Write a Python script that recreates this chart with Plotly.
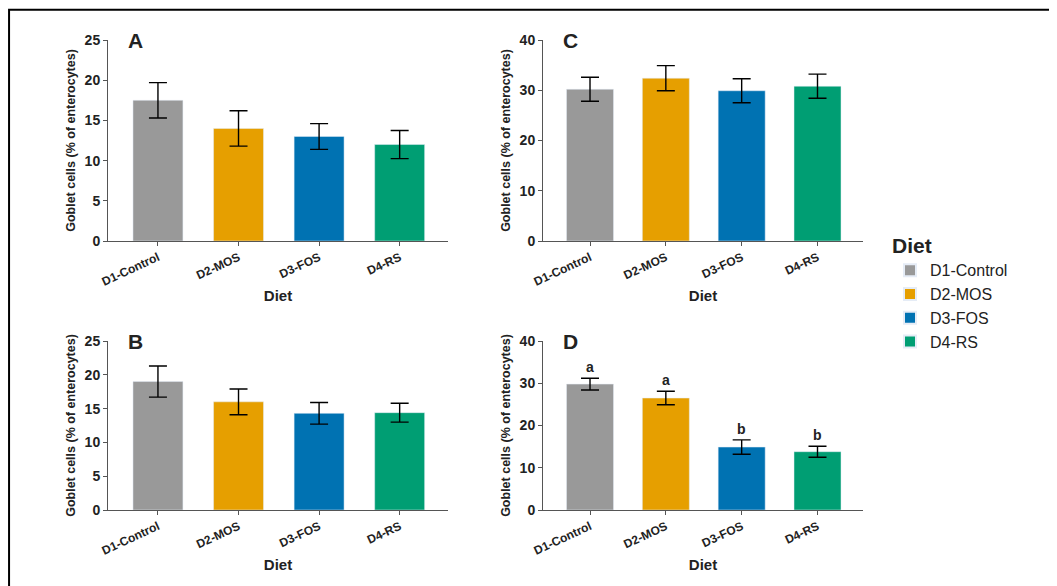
import plotly.graph_objects as go

diets = ["D1-Control", "D2-MOS", "D3-FOS", "D4-RS"]
colors = ["#999999", "#E69F00", "#0072B2", "#009E73"]
A_mean = [17.5, 14.0, 13.0, 12.0]; A_err = [2.2, 2.2, 1.6, 1.75]
B_mean = [19.0, 16.0, 14.3, 14.4]; B_err = [2.3, 1.9, 1.6, 1.4]
C_mean = [30.2, 32.4, 29.9, 30.8]; C_err = [2.4, 2.5, 2.4, 2.4]
D_mean = [29.8, 26.5, 14.9, 13.8]; D_err = [1.4, 1.6, 1.7, 1.3]
D_letters = ["a", "a", "b", "b"]

W, H = 1057, 586
def fx(p): return p / W
def fy(p): return 1 - p / H

panels = [
    ("A", A_mean, A_err, (100, 440), (32, 233), 25, 5),
    ("C", C_mean, C_err, (535, 855), (32, 233), 40, 10),
    ("B", B_mean, B_err, (100, 440), (333, 502), 25, 5),
    ("D", D_mean, D_err, (535, 855), (333, 502), 40, 10),
]

fig = go.Figure()
annotations = []
for i, (lab, m, e, (x0, x1), (yt, yb), ymax, dt) in enumerate(panels):
    n = i + 1
    xa = "x" if n == 1 else f"x{n}"
    ya = "y" if n == 1 else f"y{n}"
    for j, d in enumerate(diets):
        fig.add_trace(go.Bar(
            x=[d], y=[m[j]], name=d, marker_color=colors[j], width=0.62,
            error_y=dict(type="data", array=[e[j]], color="black", thickness=1.4, width=9),
            showlegend=(i == 0), legendgroup=d, xaxis=xa, yaxis=ya))
    axk = "xaxis" if n == 1 else f"xaxis{n}"
    ayk = "yaxis" if n == 1 else f"yaxis{n}"
    fig.layout[axk] = dict(domain=[fx(x0), fx(x1)], anchor=ya, showline=True, linecolor="#555",
                           ticks="outside", ticklen=4, tickcolor="#555", tickangle=-25,
                           tickprefix="<b>", ticksuffix="</b>",
                           tickfont=dict(size=12, family="Liberation Sans", color="#222"),
                           title=dict(text="<b>Diet</b>", font=dict(size=15, family="Liberation Sans", color="#222"), standoff=2),
                           categoryorder="array", categoryarray=diets, range=[-0.62, 3.6])
    fig.layout[ayk] = dict(domain=[fy(yb), fy(yt)], anchor=xa, showline=True, linecolor="#555",
                           ticks="outside", ticklen=4, tickcolor="#555", range=[0, ymax], dtick=dt,
                           showgrid=False, zeroline=False,
                           tickprefix="<b>", ticksuffix="</b>",
                           tickfont=dict(size=14, family="Liberation Sans", color="#222"),
                           title=dict(text="<b>Goblet cells (% of enterocytes)</b>",
                                      font=dict(size=12.5, family="Liberation Sans", color="#222"), standoff=6))
    annotations.append(dict(text=f"<b>{lab}</b>", x=fx(x0 + 18), y=fy(yt), xref="paper", yref="paper",
                            xanchor="left", yanchor="middle", showarrow=False,
                            font=dict(size=21, family="Liberation Sans", color="#222")))
    if lab == "D":
        for j, d in enumerate(diets):
            annotations.append(dict(text=f"<b>{D_letters[j]}</b>", x=d, y=m[j] + e[j], xref=xa, yref=ya,
                                    yanchor="bottom", showarrow=False, yshift=1,
                                    font=dict(size=14, family="Liberation Sans", color="#222")))

fig.update_layout(
    width=W, height=H, margin=dict(l=0, r=0, t=0, b=0, autoexpand=False),
    plot_bgcolor="white", paper_bgcolor="white",
    annotations=annotations,
    legend=dict(x=fx(882), y=fy(218), xanchor="left", yanchor="top", tracegroupgap=0,
                title=dict(text="<b>Diet</b>", font=dict(size=21, family="Liberation Sans", color="#222")),
                font=dict(size=16, family="Liberation Sans", color="#222"), itemsizing="constant"),
    shapes=[dict(type="rect", xref="paper", yref="paper", x0=0.001, x1=0.997, y0=0.003, y1=0.997,
                 line=dict(color="black", width=2))],
)
fig.write_html("out.html")
